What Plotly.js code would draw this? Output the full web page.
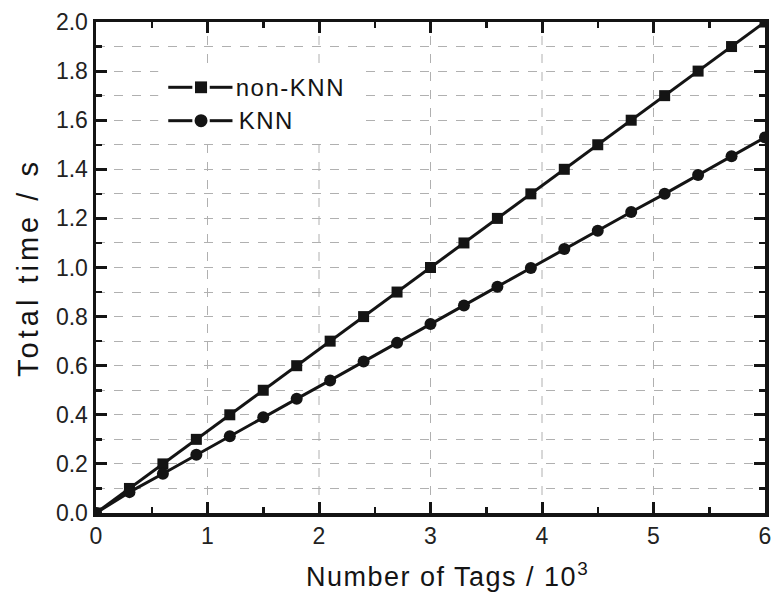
<!DOCTYPE html>
<html><head><meta charset="utf-8">
<script src="https://cdn.plot.ly/plotly-3.0.1.min.js"></script>
<style>
html,body{margin:0;padding:0;background:#fff}
#chart .ytitle{letter-spacing:4px}
#chart .annotation-text{letter-spacing:1.5px}
</style>
</head><body>
<div id="chart" style="width:771px;height:593px"></div>
<script>
var tagsX = [0, 0.3, 0.6, 0.9, 1.2, 1.5, 1.8, 2.1, 2.4, 2.7, 3.0, 3.3, 3.6, 3.9, 4.2, 4.5, 4.8, 5.1, 5.4, 5.7, 6.0];
var nonKnnTime = [0, 0.1, 0.2, 0.3, 0.4, 0.5, 0.6, 0.7, 0.8, 0.9, 1.0, 1.1, 1.2, 1.3, 1.4, 1.5, 1.6, 1.7, 1.8, 1.9, 2.0];
var knnTime = [0, 0.085, 0.16, 0.237, 0.313, 0.39, 0.465, 0.54, 0.617, 0.693, 0.77, 0.845, 0.922, 0.998, 1.075, 1.15, 1.226, 1.30, 1.377, 1.453, 1.53];
var seriesNames = ["non-KNN", "KNN"];
var xTitle = "Number of Tags / 10<sup>3</sup>";
var yTitle = "Total time / s";
var xGridTicks = [1, 2, 3, 4, 5];

var ink = "#141414";
var gridCol = "#b0b0b0";
var font = "Liberation Sans, Arial, sans-serif";

var traces = [
  {x: tagsX, y: nonKnnTime, name: seriesNames[0], mode: "lines+markers",
   line: {color: ink, width: 3}, marker: {symbol: "square", size: 11, color: ink}, cliponaxis: true},
  {x: tagsX, y: knnTime, name: seriesNames[1], mode: "lines+markers",
   line: {color: ink, width: 3}, marker: {symbol: "circle", size: 12, color: ink}, cliponaxis: true}
];

var shapes = [];
xGridTicks.forEach(function (v) {
  shapes.push({type: "line", xref: "x", yref: "paper", x0: v, x1: v, y0: 0, y1: 1,
    line: {color: gridCol, width: 1, dash: "dash"}, layer: "below"});
});
shapes.push(
  {type: "rect", xref: "paper", yref: "paper", x0: 0.093, x1: 0.402, y0: 0.76, y1: 0.916,
   fillcolor: "#fff", line: {width: 0}, layer: "above"},
  {type: "line", xref: "paper", yref: "paper", x0: 0.108, x1: 0.144, y0: 0.867, y1: 0.867, line: {color: ink, width: 3}},
  {type: "line", xref: "paper", yref: "paper", x0: 0.170, x1: 0.204, y0: 0.867, y1: 0.867, line: {color: ink, width: 3}},
  {type: "rect", xref: "paper", yref: "paper", x0: 0.148, x1: 0.166, y0: 0.855, y1: 0.879, fillcolor: ink, line: {width: 0}},
  {type: "line", xref: "paper", yref: "paper", x0: 0.108, x1: 0.144, y0: 0.799, y1: 0.799, line: {color: ink, width: 3}},
  {type: "line", xref: "paper", yref: "paper", x0: 0.170, x1: 0.204, y0: 0.799, y1: 0.799, line: {color: ink, width: 3}},
  {type: "circle", xref: "paper", yref: "paper", x0: 0.1473, x1: 0.1667, y0: 0.7858, y1: 0.8122, fillcolor: ink, line: {width: 0}}
);
var annotations = [
  {xref: "paper", yref: "paper", x: 0.214, y: 0.867, text: seriesNames[0], showarrow: false,
   xanchor: "left", yanchor: "middle", font: {family: font, size: 24, color: ink}},
  {xref: "paper", yref: "paper", x: 0.214, y: 0.799, text: seriesNames[1], showarrow: false,
   xanchor: "left", yanchor: "middle", font: {family: font, size: 24, color: ink}},
  {xref: "paper", yref: "paper", x: 0.525, y: -0.088, text: xTitle, showarrow: false,
   xanchor: "center", yanchor: "top", font: {family: font, size: 27, color: ink}}
];

var layout = {
  width: 771, height: 593,
  margin: {l: 96, r: 6, t: 22, b: 80},
  paper_bgcolor: "#fff", plot_bgcolor: "#fff",
  showlegend: false,
  font: {family: font, color: ink},
  xaxis: {
    range: [0, 6], dtick: 1, tick0: 0,
    showline: true, linecolor: ink, linewidth: 3.5, mirror: "ticks",
    ticks: "inside", ticklen: 11, tickwidth: 3, tickcolor: ink,
    showgrid: false, zeroline: false, ticklabeloverflow: "allow",
    minor: {dtick: 0.5, ticks: "inside", ticklen: 6, tickwidth: 2.5, tickcolor: ink, showgrid: false},
    tickfont: {family: font, size: 23, color: "#222"}
  },
  yaxis: {
    range: [0, 2.0], dtick: 0.2, tick0: 0, tickformat: ".1f",
    showline: true, linecolor: ink, linewidth: 3.5, mirror: "ticks",
    ticks: "inside", ticklen: 11, tickwidth: 3, tickcolor: ink,
    showgrid: true, gridcolor: gridCol, gridwidth: 1, griddash: "dash",
    zeroline: false, ticklabeloverflow: "allow",
    minor: {dtick: 0.1, ticks: "inside", ticklen: 6, tickwidth: 2.5, tickcolor: ink,
            showgrid: true, gridcolor: gridCol, gridwidth: 1, griddash: "dash"},
    tickfont: {family: font, size: 23, color: "#222"},
    title: {text: yTitle, font: {family: font, size: 29, color: ink}, standoff: 10}
  },
  shapes: shapes,
  annotations: annotations
};

Plotly.newPlot("chart", traces, layout, {displayModeBar: false, staticPlot: true});
</script>
</body></html>
